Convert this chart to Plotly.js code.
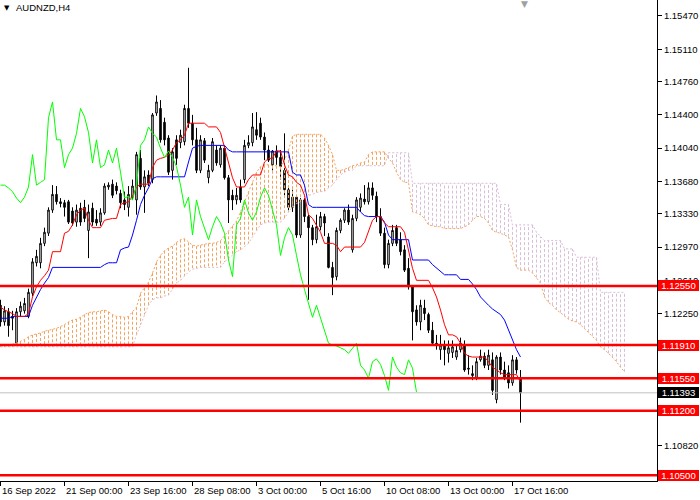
<!DOCTYPE html>
<html><head><meta charset="utf-8">
<script src="https://cdn.plot.ly/plotly-3.0.1.min.js"></script>
<style>html,body{margin:0;padding:0;background:#fff}#chart{width:700px;height:500px}</style>
</head><body><div id="chart"></div>
<script>
const symbol = 'AUDNZD,H4';
const timeLabels = ['16 Sep 2022','21 Sep 00:00','23 Sep 16:00','28 Sep 08:00','3 Oct 00:00','5 Oct 16:00','10 Oct 08:00','13 Oct 00:00','17 Oct 16:00'];
const barsPerLabel = 16;
const priceTicks = [1.15470,1.15110,1.14760,1.14400,1.14040,1.13680,1.13330,1.12970,1.12610,1.12250,1.11890,1.11540,1.11180,1.10820,1.10470];
const levels = [1.12550,1.11910,1.11550,1.11200,1.10500];
const bid = 1.11393;

const open = [1.1234,1.1216,1.1227,1.1222,1.1193,1.1227,1.1228,1.1222,1.1247,1.1280,
1.1280,1.1301,1.1312,1.1337,1.1354,1.1346,1.1345,1.1346,1.1336,1.1324,
1.1339,1.1340,1.1315,1.1339,1.1327,1.1324,1.1334,1.1362,1.1365,1.1363,
1.1355,1.1348,1.1340,1.1351,1.1348,1.1393,1.1362,1.1375,1.1370,1.1442,
1.1447,1.1432,1.1415,1.1380,1.1413,1.1410,1.1411,1.1447,1.1431,1.1413,
1.1380,1.1412,1.1372,1.1380,1.1402,1.1386,1.1404,1.1372,1.1353,1.1348,
1.1362,1.1370,1.1407,1.1410,1.1424,1.1431,1.1416,1.1402,1.1386,1.1401,
1.1394,1.1380,1.1359,1.1340,1.1351,1.1310,1.1348,1.1330,1.1318,1.1305,
1.1319,1.1330,1.1308,1.1275,1.1265,1.1315,1.1326,1.1337,1.1294,1.1328,
1.1340,1.1349,1.1346,1.1361,1.1352,1.1330,1.1312,1.1278,1.1301,1.1318,
1.1305,1.1294,1.1274,1.1254,1.1229,1.1216,1.1231,1.1224,1.1207,1.1193,
1.1186,1.1191,1.1182,1.1183,1.1178,1.1186,1.1191,1.1166,1.1160,1.1156,
1.1175,1.1179,1.1169,1.1175,1.1132,1.1178,1.1164,1.1161,1.1150,1.1175,
1.1155];
const high = [1.1240,1.1233,1.1231,1.1228,1.1231,1.1238,1.1242,1.1252,1.1285,1.1294,
1.1307,1.1318,1.1340,1.1364,1.1363,1.1350,1.1348,1.1348,1.1340,1.1343,
1.1345,1.1348,1.1343,1.1345,1.1337,1.1339,1.1366,1.1367,1.1370,1.1367,
1.1359,1.1357,1.1363,1.1370,1.1400,1.1402,1.1380,1.1380,1.1442,1.1461,
1.1456,1.1437,1.1418,1.1404,1.1418,1.1424,1.1451,1.1491,1.1440,1.1426,
1.1418,1.1415,1.1386,1.1415,1.1407,1.1407,1.1407,1.1375,1.1359,1.1361,
1.1370,1.1413,1.1418,1.1442,1.1443,1.1437,1.1421,1.1407,1.1402,1.1407,
1.1402,1.1420,1.1364,1.1359,1.1353,1.1350,1.1350,1.1332,1.1321,1.1332,
1.1335,1.1333,1.1312,1.1281,1.1318,1.1328,1.1339,1.1343,1.1332,1.1351,
1.1355,1.1364,1.1367,1.1367,1.1357,1.1339,1.1318,1.1305,1.1321,1.1321,
1.1313,1.1299,1.1285,1.1256,1.1234,1.1240,1.1240,1.1226,1.1216,1.1202,
1.1202,1.1196,1.1196,1.1196,1.1191,1.1199,1.1196,1.1180,1.1169,1.1177,
1.1186,1.1183,1.1186,1.1183,1.1180,1.1183,1.1173,1.1169,1.1180,1.1178,
1.1164];
const low = [1.1211,1.1212,1.1200,1.1207,1.1190,1.1222,1.1225,1.1220,1.1244,1.1276,
1.1274,1.1298,1.1309,1.1334,1.1343,1.1340,1.1330,1.1322,1.1320,1.1319,
1.1320,1.1324,1.1285,1.1320,1.1320,1.1320,1.1332,1.1359,1.1350,1.1354,
1.1339,1.1337,1.1330,1.1348,1.1332,1.1359,1.1334,1.1363,1.1366,1.1439,
1.1410,1.1407,1.1375,1.1370,1.1386,1.1404,1.1407,1.1426,1.1407,1.1377,
1.1377,1.1388,1.1366,1.1378,1.1385,1.1383,1.1370,1.1323,1.1337,1.1343,
1.1345,1.1366,1.1404,1.1406,1.1413,1.1413,1.1391,1.1389,1.1380,1.1386,
1.1370,1.1353,1.1337,1.1335,1.1307,1.1307,1.1324,1.1240,1.1299,1.1301,
1.1315,1.1309,1.1274,1.1245,1.1261,1.1312,1.1323,1.1321,1.1291,1.1325,
1.1335,1.1343,1.1343,1.1348,1.1324,1.1309,1.1274,1.1274,1.1298,1.1298,
1.1288,1.1270,1.1251,1.1196,1.1212,1.1207,1.1218,1.1204,1.1190,1.1186,
1.1175,1.1169,1.1172,1.1177,1.1175,1.1183,1.1162,1.1159,1.1153,1.1153,
1.1173,1.1166,1.1164,1.1137,1.1128,1.1159,1.1153,1.1144,1.1147,1.1160,
1.1107];
const close = [1.1216,1.1228,1.1212,1.1220,1.1227,1.1233,1.1236,1.1248,1.1281,1.1287,
1.1301,1.1313,1.1337,1.1354,1.1346,1.1344,1.1340,1.1324,1.1323,1.1337,
1.1324,1.1328,1.1335,1.1324,1.1323,1.1334,1.1363,1.1364,1.1353,1.1358,
1.1345,1.1343,1.1354,1.1363,1.1397,1.1362,1.1373,1.1366,1.1440,1.1454,
1.1413,1.1413,1.1378,1.1400,1.1393,1.1418,1.1447,1.1431,1.1413,1.1380,
1.1413,1.1391,1.1380,1.1411,1.1388,1.1404,1.1372,1.1348,1.1348,1.1353,
1.1348,1.1407,1.1410,1.1427,1.1418,1.1416,1.1402,1.1391,1.1401,1.1394,
1.1384,1.1359,1.1340,1.1351,1.1310,1.1348,1.1330,1.1318,1.1305,1.1319,
1.1330,1.1323,1.1275,1.1264,1.1315,1.1326,1.1337,1.1324,1.1328,1.1348,
1.1350,1.1346,1.1361,1.1353,1.1330,1.1312,1.1278,1.1301,1.1315,1.1301,
1.1292,1.1272,1.1254,1.1227,1.1216,1.1234,1.1225,1.1207,1.1193,1.1191,
1.1191,1.1186,1.1188,1.1189,1.1185,1.1193,1.1164,1.1165,1.1158,1.1173,
1.1179,1.1169,1.1180,1.1142,1.1178,1.1164,1.1156,1.1150,1.1175,1.1164,
1.11393];
const tenkan = [1.1232,1.1229,1.1227,1.1225,1.1222,1.1222,1.1222,1.1225,1.1243,1.1254,
1.1261,1.1266,1.1272,1.1292,1.1292,1.1292,1.1312,1.1314,1.1321,1.1332,
1.1337,1.1339,1.1326,1.1318,1.1318,1.1318,1.1326,1.1327,1.1328,1.1328,
1.1343,1.1345,1.1346,1.1352,1.1362,1.1365,1.1365,1.1365,1.1383,1.1391,
1.1393,1.1394,1.1397,1.1402,1.1410,1.1413,1.1418,1.1431,1.1431,1.1431,
1.1431,1.1431,1.1427,1.1427,1.1427,1.1421,1.1405,1.1389,1.1372,1.1362,
1.1362,1.1362,1.1370,1.1375,1.1375,1.1375,1.1389,1.1393,1.1393,1.1401,
1.1401,1.1386,1.1375,1.1373,1.1367,1.1364,1.1353,1.1332,1.1328,1.1321,
1.1313,1.1301,1.1301,1.1301,1.1299,1.1292,1.1297,1.1297,1.1297,1.1297,
1.1297,1.1302,1.1315,1.1326,1.1330,1.1330,1.1323,1.1319,1.1319,1.1319,
1.1319,1.1313,1.1294,1.1274,1.1261,1.1261,1.1261,1.1261,1.1253,1.1243,
1.1229,1.1213,1.1202,1.1202,1.1200,1.1193,1.1182,1.1179,1.1178,1.1178,
1.1178,1.1178,1.1173,1.1167,1.1164,1.1161,1.1159,1.1159,1.1159,1.1159,
1.1151];
const kijun = [1.1220,1.1220,1.1220,1.1222,1.1222,1.1222,1.1222,1.1222,1.1234,1.1243,
1.1251,1.1258,1.1264,1.1275,1.1275,1.1275,1.1275,1.1275,1.1275,1.1275,
1.1275,1.1275,1.1275,1.1275,1.1275,1.1275,1.1278,1.1280,1.1280,1.1280,
1.1294,1.1296,1.1297,1.1310,1.1326,1.1343,1.1353,1.1361,1.1371,1.1373,
1.1373,1.1373,1.1373,1.1373,1.1373,1.1373,1.1373,1.1389,1.1404,1.1406,
1.1407,1.1407,1.1407,1.1407,1.1407,1.1407,1.1407,1.1402,1.1400,1.1400,
1.1400,1.1400,1.1400,1.1400,1.1400,1.1400,1.1400,1.1400,1.1400,1.1400,
1.1400,1.1400,1.1400,1.1378,1.1375,1.1375,1.1364,1.1343,1.1340,1.1340,
1.1340,1.1340,1.1340,1.1340,1.1340,1.1340,1.1340,1.1340,1.1340,1.1340,
1.1335,1.1331,1.1330,1.1330,1.1330,1.1330,1.1324,1.1310,1.1305,1.1305,
1.1305,1.1305,1.1305,1.1283,1.1283,1.1283,1.1283,1.1283,1.1278,1.1274,
1.1271,1.1267,1.1267,1.1267,1.1267,1.1262,1.1262,1.1262,1.1257,1.1251,
1.1243,1.1238,1.1234,1.1230,1.1227,1.1224,1.1218,1.1207,1.1196,1.1186,
1.1178];
const chikou = [1.1364,1.1364,1.1361,1.1357,1.1350,1.1345,1.1351,1.1362,1.1397,1.1364,
1.1367,1.1370,1.1437,1.1454,1.1413,1.1413,1.1383,1.1397,1.1404,1.1420,
1.1447,1.1438,1.1421,1.1388,1.1413,1.1383,1.1386,1.1402,1.1388,1.1404,
1.1378,1.1350,1.1352,1.1348,1.1364,1.1407,1.1413,1.1427,1.1420,1.1416,
1.1404,1.1394,1.1401,1.1394,1.1384,1.1364,1.1340,1.1351,1.1310,1.1348,
1.1330,1.1318,1.1305,1.1319,1.1330,1.1323,1.1312,1.1283,1.1265,1.1321,
1.1328,1.1348,1.1334,1.1326,1.1335,1.1351,1.1361,1.1353,1.1337,1.1321,
1.1288,1.1307,1.1318,1.1310,1.1288,1.1267,1.1251,1.1236,1.1221,1.1234,
1.1220,1.1207,1.1193,1.1191,1.1190,1.1188,1.1186,1.1182,1.1188,1.1193,
1.1169,1.1164,1.1155,1.1173,1.1176,1.1170,1.1158,1.1142,1.1178,1.1167,
1.1161,1.1159,1.1175,1.1166,1.1140];
const spanA = [1.1190,1.1190,1.1191,1.1192,1.1193,1.1195,1.1197,1.1200,1.1202,1.1203,
1.1204,1.1206,1.1207,1.1208,1.1209,1.1211,1.1213,1.1216,1.1218,1.1219,
1.1221,1.1224,1.1226,1.1227,1.1227,1.1228,1.1229,1.1227,1.1224,1.1222,
1.1222,1.1221,1.1222,1.1227,1.1232,1.1247,1.1253,1.1259,1.1269,1.1281,
1.1288,1.1293,1.1296,1.1298,1.1302,1.1305,1.1306,1.1302,1.1299,1.1298,
1.1299,1.1300,1.1301,1.1301,1.1302,1.1304,1.1309,1.1314,1.1320,1.1325,
1.1335,1.1346,1.1357,1.1367,1.1378,1.1384,1.1386,1.1386,1.1385,1.1385,
1.1384,1.1391,1.1402,1.1417,1.1419,1.1419,1.1419,1.1419,1.1419,1.1419,
1.1419,1.1415,1.1407,1.1397,1.1380,1.1380,1.1381,1.1383,1.1385,1.1386,
1.1388,1.1389,1.1397,1.1400,1.1400,1.1400,1.1400,1.1393,1.1388,1.1378,
1.1370,1.1367,1.1367,1.1335,1.1334,1.1332,1.1328,1.1321,1.1320,1.1319,
1.1319,1.1317,1.1317,1.1317,1.1317,1.1317,1.1319,1.1321,1.1326,1.1330,
1.1330,1.1328,1.1323,1.1315,1.1313,1.1312,1.1310,1.1308,1.1294,1.1275,
1.1272,1.1272,1.1272,1.1269,1.1264,1.1258,1.1243,1.1237,1.1234,1.1229,
1.1226,1.1222,1.1219,1.1217,1.1216,1.1213,1.1209,1.1205,1.1201,1.1196,
1.1189,1.1186,1.1182,1.1178,1.1173,1.1167,1.1162];
const spanB = [1.1189,1.1189,1.1189,1.1189,1.1189,1.1189,1.1189,1.1189,1.1189,1.1189,
1.1189,1.1189,1.1189,1.1189,1.1189,1.1189,1.1189,1.1189,1.1189,1.1189,
1.1189,1.1189,1.1189,1.1189,1.1189,1.1189,1.1189,1.1189,1.1189,1.1189,
1.1189,1.1189,1.1189,1.1189,1.1202,1.1213,1.1224,1.1234,1.1240,1.1242,
1.1242,1.1244,1.1245,1.1251,1.1258,1.1261,1.1266,1.1270,1.1273,1.1274,
1.1275,1.1275,1.1275,1.1275,1.1275,1.1275,1.1281,1.1285,1.1288,1.1292,
1.1294,1.1297,1.1301,1.1308,1.1315,1.1321,1.1323,1.1324,1.1324,1.1324,
1.1324,1.1328,1.1335,1.1340,1.1344,1.1346,1.1350,1.1353,1.1354,1.1356,
1.1357,1.1357,1.1361,1.1364,1.1370,1.1375,1.1378,1.1380,1.1380,1.1385,
1.1385,1.1385,1.1385,1.1385,1.1385,1.1385,1.1385,1.1399,1.1399,1.1399,
1.1399,1.1399,1.1399,1.1366,1.1366,1.1366,1.1366,1.1366,1.1366,1.1366,
1.1366,1.1366,1.1366,1.1366,1.1366,1.1366,1.1366,1.1366,1.1366,1.1366,
1.1366,1.1366,1.1366,1.1366,1.1366,1.1343,1.1343,1.1343,1.1321,1.1321,
1.1321,1.1321,1.1321,1.1321,1.1313,1.1308,1.1304,1.1304,1.1304,1.1304,
1.1304,1.1295,1.1295,1.1295,1.1286,1.1286,1.1286,1.1286,1.1286,1.1286,
1.1248,1.1248,1.1248,1.1248,1.1248,1.1248,1.1248];

const FONT = 'Liberation Sans, Arial, sans-serif';
const idx = n => Array.from({length: n}, (_, i) => i);
const bars = idx(close.length);

// cloud hatch built from the two spans
const hatchUp = {x: [], y: []}, hatchDn = {x: [], y: []};
spanA.forEach((a, i) => {
  const b = spanB[i];
  const h = a >= b ? hatchUp : hatchDn;
  h.x.push(i, i, null); h.y.push(a, b, null);
});

const traces = [
  {type: 'candlestick', x: bars, open, high, low, close, whiskerwidth: 0,
   increasing: {line: {color: '#000', width: 1}, fillcolor: '#fff'},
   decreasing: {line: {color: '#000', width: 1}, fillcolor: '#000'},
   hoverinfo: 'skip'},
  {type: 'scatter', mode: 'lines', x: hatchUp.x, y: hatchUp.y, connectgaps: false,
   line: {color: '#F4A460', width: 1, dash: '3px,2px'}, hoverinfo: 'skip'},
  {type: 'scatter', mode: 'lines', x: hatchDn.x, y: hatchDn.y, connectgaps: false,
   line: {color: '#D8BFD8', width: 1, dash: '3px,2px'}, hoverinfo: 'skip'},
  {type: 'scatter', mode: 'lines', x: idx(spanA.length), y: spanA,
   line: {color: '#F4A460', width: 1, dash: '2px,2px'}, hoverinfo: 'skip'},
  {type: 'scatter', mode: 'lines', x: idx(spanB.length), y: spanB,
   line: {color: '#D8BFD8', width: 1, dash: '2px,2px'}, hoverinfo: 'skip'},
  {type: 'scatter', mode: 'lines', x: bars, y: kijun, line: {color: '#0000FF', width: 1}, hoverinfo: 'skip'},
  {type: 'scatter', mode: 'lines', x: bars, y: tenkan, line: {color: '#FF0000', width: 1}, hoverinfo: 'skip'},
  {type: 'scatter', mode: 'lines', x: idx(chikou.length), y: chikou, line: {color: '#00FF00', width: 1}, hoverinfo: 'skip'}
];

const shapes = levels.map(v => ({type: 'line', xref: 'paper', x0: 0, x1: 1, yref: 'y', y0: v, y1: v,
  line: {color: '#FF0000', width: 2.5}}));
shapes.unshift({type: 'line', xref: 'paper', x0: 0, x1: 1, yref: 'y', y0: bid, y1: bid,
  line: {color: '#C0C0C0', width: 1}});

const priceTag = (v, bg) => ({xref: 'paper', x: 1, xanchor: 'left', xshift: 1, yref: 'y', y: v,
  yanchor: 'middle', text: v.toFixed(5), showarrow: false, bgcolor: bg, width: 41, height: 11,
  borderpad: 0, borderwidth: 0, font: {family: FONT, size: 9.5, color: '#fff'}});

const annotations = levels.map(v => priceTag(v, '#FF0000'));
annotations.push(priceTag(bid, '#000000'));
// time labels start at their tick, as in the terminal
timeLabels.forEach((t, k) => annotations.push({xref: 'x', x: k * barsPerLabel, xanchor: 'left', xshift: 0,
  yref: 'paper', y: 0, yanchor: 'top', yshift: -3, text: t, showarrow: false, borderpad: 0,
  font: {family: FONT, size: 9.5, color: '#000'}}));
annotations.push({xref: 'paper', yref: 'paper', x: 0, y: 1, xanchor: 'left', yanchor: 'top', xshift: 2, yshift: -2,
  text: '▼', showarrow: false, font: {family: 'DejaVu Sans', size: 7, color: '#000'}});
annotations.push({xref: 'paper', yref: 'paper', x: 0, y: 1, xanchor: 'left', yanchor: 'top', xshift: 14, yshift: 0,
  text: symbol, showarrow: false, font: {family: FONT, size: 9.5, color: '#000'}});
annotations.push({xref: 'x', yref: 'paper', x: 131, y: 1, xanchor: 'center', yanchor: 'top', yshift: 3,
  text: '▼', showarrow: false, font: {family: 'DejaVu Sans', size: 9, color: '#A0A0A0'}});

// labels fully covered by the price tags in the terminal are left blank
const coveredTicks = [1.11890, 1.11540, 1.11180];
const layout = {
  width: 700, height: 500,
  margin: {l: 0, r: 43, t: 0, b: 19, autoexpand: false},
  paper_bgcolor: '#fff', plot_bgcolor: '#fff', showlegend: false, boxgap: 0.45,
  hovermode: false,
  xaxis: {type: 'linear', range: [-0.125, 164.125], tickvals: timeLabels.map((_, k) => k * barsPerLabel),
    showticklabels: false, ticks: 'outside', ticklen: 4, tickcolor: '#000', tickwidth: 1,
    showline: true, linecolor: '#000', linewidth: 1, showgrid: false, zeroline: false,
    rangeslider: {visible: false}, fixedrange: true},
  yaxis: {side: 'right', range: [1.10439, 1.15643], tickvals: priceTicks,
    ticktext: priceTicks.map(v => coveredTicks.includes(v) ? '' : v.toFixed(5)),
    ticks: 'outside', ticklen: 4, tickcolor: '#000', tickwidth: 1,
    showline: true, linecolor: '#000', linewidth: 1, showgrid: false, zeroline: false,
    tickfont: {family: FONT, size: 9.5, color: '#000'}, fixedrange: true},
  shapes, annotations
};

Plotly.newPlot('chart', traces, layout, {displayModeBar: false, staticPlot: true});
</script></body></html>
